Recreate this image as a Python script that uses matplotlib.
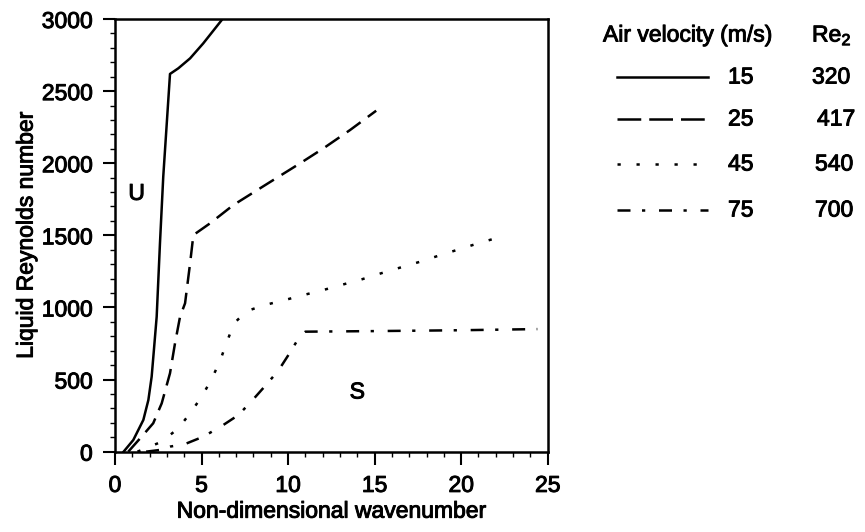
import matplotlib.pyplot as plt
import matplotlib.patheffects as pe
from matplotlib.lines import Line2D
from matplotlib.ticker import MultipleLocator

# Data
x15 = [0.5, 1.06, 1.64, 1.93, 2.12, 2.25, 2.41, 2.60, 2.79, 2.98, 3.18, 3.66, 4.34, 5.10, 6.17, 6.3]
y15 = [0, 81, 220, 358, 520, 705, 936, 1445, 1907, 2253, 2619, 2658, 2727, 2831, 2993, 3020]

x25 = [0.77, 1.54, 2.21, 2.70, 3.18, 3.47, 3.76, 4.05, 4.34, 4.53, 5.49, 6.84, 8.7, 10.69, 12.04, 13.58, 15.09]
y25 = [0, 104, 197, 335, 544, 752, 936, 1029, 1306, 1502, 1583, 1710, 1850, 1999, 2103, 2230, 2364]

x45 = [1.3, 2.70, 3.66, 4.34, 5.01, 5.58, 6.07, 6.45, 6.88, 7.61, 8.67, 9.83, 10.89, 12.04, 13.2,
       14.26, 15.38, 16.47, 17.57, 18.65, 19.74, 20.86, 21.97]
y45 = [0, 69, 162, 266, 381, 502, 629, 756, 890, 975, 1017, 1052, 1086, 1121, 1160,
       1195, 1237, 1276, 1315, 1357, 1398, 1440, 1479]

x75 = [1.8, 2.6, 3.18, 4.05, 5.1, 6.17, 7.13, 7.90, 8.67, 9.44, 10.02, 10.69, 11.0, 15.0, 20.0, 24.4]
y75 = [0, 12, 35, 53, 104, 178, 254, 351, 455, 562, 670, 802, 832, 836, 842, 850]

velocities = ['15', '25', '45', '75']
re2_values = ['320', '417', '540', '700']

plt.rcParams['font.family'] = ['Liberation Sans', 'DejaVu Sans']
plt.rcParams['mathtext.fontset'] = 'custom'
plt.rcParams['mathtext.rm'] = 'Liberation Sans'
plt.rcParams['mathtext.it'] = 'Liberation Sans'

heavy = [pe.withStroke(linewidth=0.7, foreground='black')]
fs = 16.5

fig = plt.figure(figsize=(8.65, 5.32), dpi=100)
ax = fig.add_axes([0.1329, 0.151, 0.5003, 0.8133])

lw = 1.8
styles = ['-', (0, (6.8, 3.6)), (0, (1.3, 6.3)), (0, (5.2, 4.6, 1.3, 5.5))]
series = [(x15, y15), (x25, y25), (x45, y45), (x75, y75)]
for (xs, ys), ls in zip(series, styles):
    ax.plot(xs, ys, color='black', lw=lw, linestyle=ls)

ax.set_xlim(0, 25)
ax.set_ylim(0, 3000)
ax.xaxis.set_major_locator(MultipleLocator(5))
ax.xaxis.set_minor_locator(MultipleLocator(1))
ax.yaxis.set_major_locator(MultipleLocator(500))
ax.yaxis.set_minor_locator(MultipleLocator(100))
ax.tick_params(which='major', direction='out', length=9, width=1.5, labelsize=fs, pad=7)
ax.tick_params(which='minor', direction='out', length=3.5, width=1)
ax.tick_params(axis='y', which='both', left=True, right=False)
ax.tick_params(axis='x', which='both', bottom=True, top=False)
for s in ax.spines.values():
    s.set_linewidth(1.8)
for lab in ax.get_xticklabels() + ax.get_yticklabels():
    lab.set_path_effects(heavy)

ax.set_xlabel('Non-dimensional wavenumber', fontsize=fs, labelpad=2, path_effects=heavy)
ax.set_ylabel('Liquid Reynolds number', fontsize=fs, labelpad=3, path_effects=heavy)

ax.text(1.25, 1791, 'U', fontsize=fs, ha='center', va='center', path_effects=heavy)
ax.text(14.0, 414, 'S', fontsize=fs, ha='center', va='center', path_effects=heavy)

# legend block drawn by hand, pixel positions from the picture
W, H = 865.0, 532.0
fig.text(603 / W, 1 - 35 / H, 'Air velocity (m/s)', fontsize=fs, va='center', ha='left',
         path_effects=heavy)
fig.text(812 / W, 1 - 35 / H, 'Re$_2$', fontsize=fs, va='center', ha='left', path_effects=heavy)
rows = [77, 119, 164, 210]
re_x = [812, 817, 815, 815]
key_styles = ['-', (0, (9.5, 3.2)), (0, (1.3, 6.3)), (0, (5.2, 4.6, 1.3, 5.5))]
for i, ls in enumerate(key_styles):
    yy = 1 - rows[i] / H
    fig.add_artist(Line2D([617 / W, 708 / W], [yy, yy], color='black', lw=lw,
                          linestyle=ls, transform=fig.transFigure))
    fig.text(728 / W, yy, velocities[i], fontsize=fs, va='center', ha='left', path_effects=heavy)
    fig.text(re_x[i] / W, yy, re2_values[i], fontsize=fs, va='center', ha='left',
             path_effects=heavy)

fig.savefig('out.png', dpi=100)
